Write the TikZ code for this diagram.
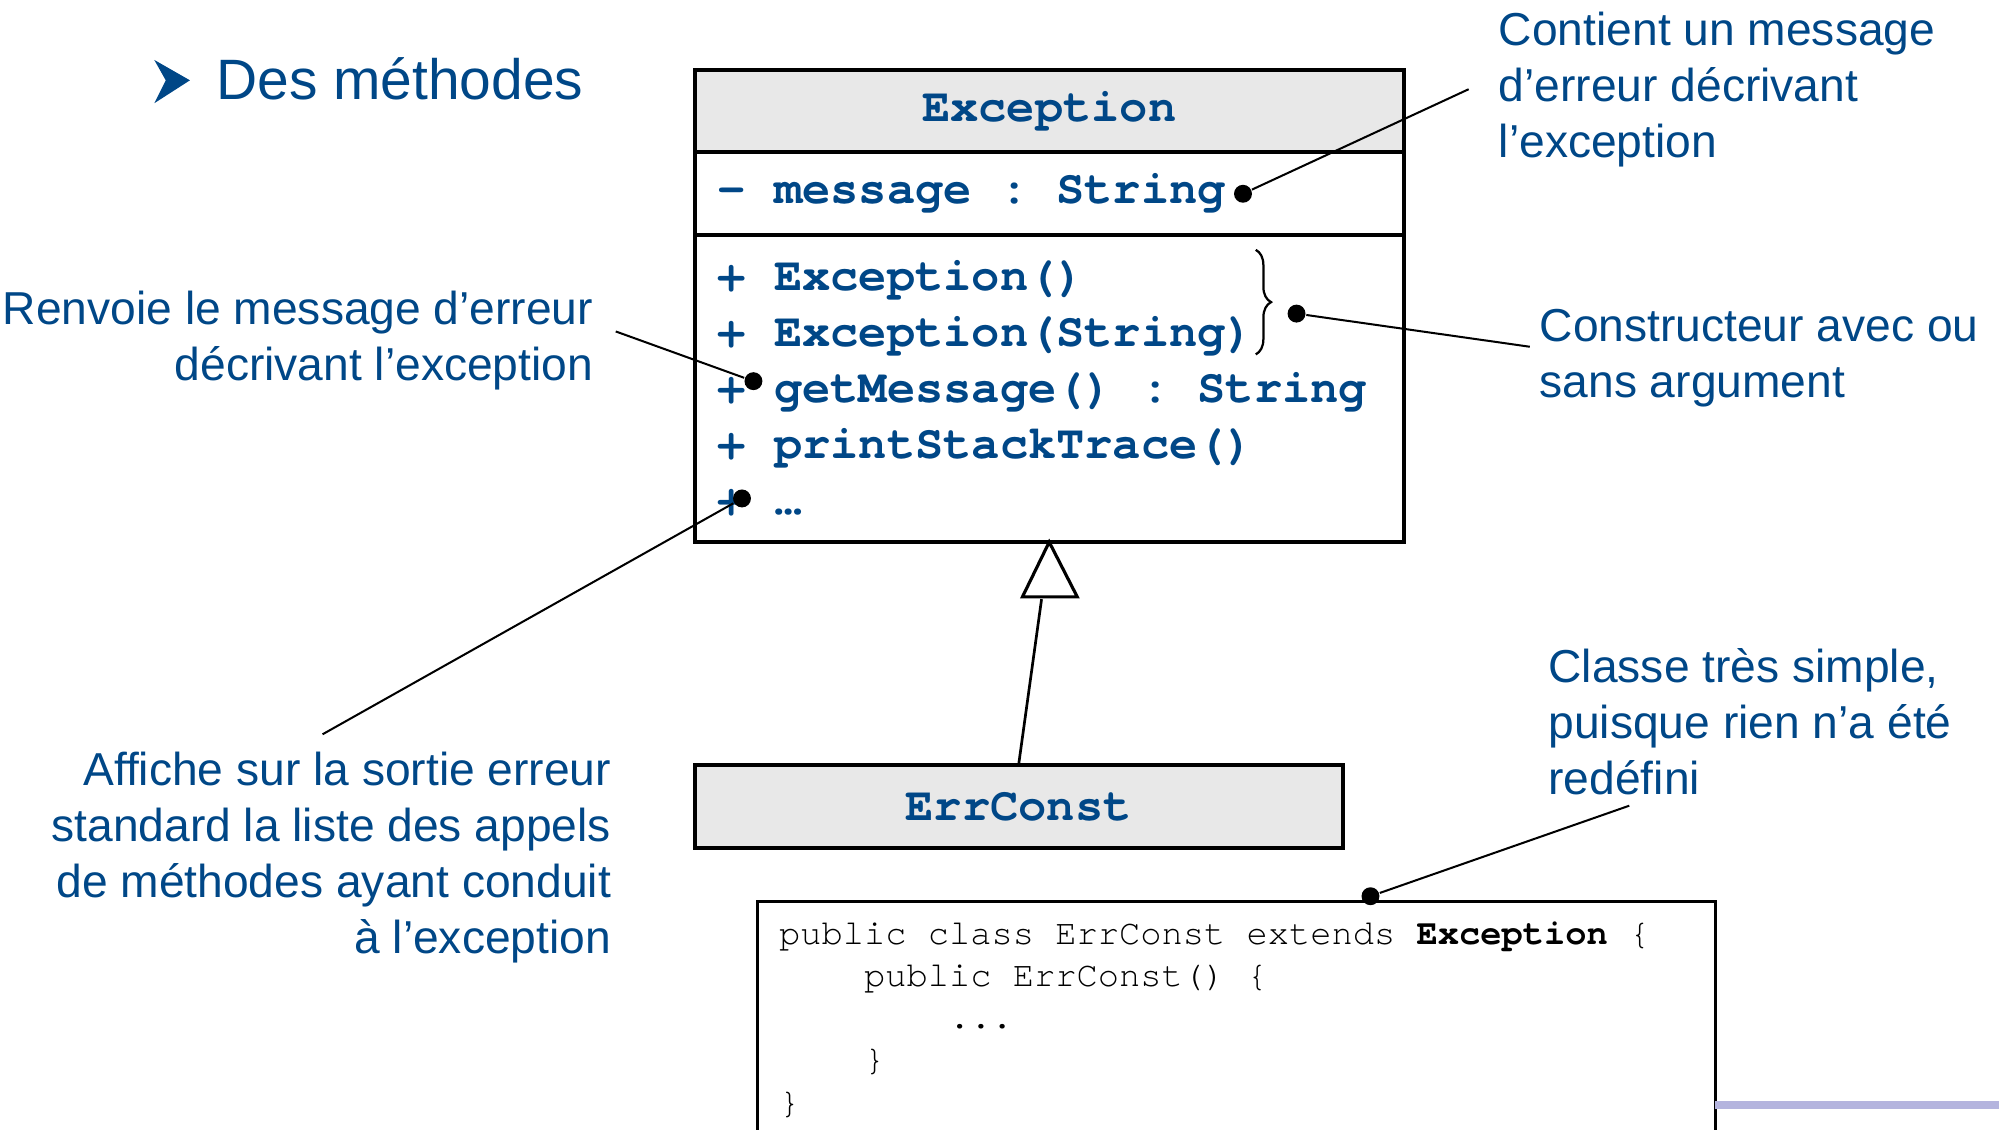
\documentclass[tikz,border=0pt]{standalone}
\usepackage{fontspec}
\setmainfont{Liberation Sans}
\newfontfamily\umlmono{TeX Gyre Cursor}
% one full character cell of blank in the monospaced text
\newcommand\sk{\hspace*{0.6em}}
\usetikzlibrary{positioning,arrows.meta,decorations.pathreplacing}
\definecolor{slideblue}{RGB}{0,71,135}
\definecolor{headgray}{RGB}{232,232,232}
\definecolor{barlav}{RGB}{180,180,222}
\tikzset{
  chead/.style   = {draw, line width=0.9pt, fill=headgray, text=slideblue,
                    font=\umlmono\bfseries\fontsize{10.5}{12.5}\selectfont,
                    minimum width=5.56cm, minimum height=0.64cm,
                    inner sep=0pt, outer sep=0pt},
  % compartments: fixed text width, left aligned
  cpart/.style   = {chead, fill=white, align=left, text width=5.2cm},
  note/.style    = {text=slideblue, font=\fontsize{10.3}{12.5}\selectfont,
                    inner sep=0pt},
  pin/.style     = {circle, fill=black, inner sep=0pt, minimum size=4pt},
  link/.style    = {draw=black, line width=0.45pt},
  codebox/.style = {draw, line width=0.6pt, fill=white, align=left,
                    text width=7.17cm, inner xsep=0.17cm, inner ysep=0.16cm,
                    font=\umlmono\fontsize{7.9}{9.4}\selectfont},
}

\begin{document}
\begin{tikzpicture}[x=0.01cm, y=-0.01cm]
  \useasboundingbox (0,0) rectangle (1568,886);
  \clip (0,0) rectangle (1568,886);

  % bullet
  \fill[slideblue] (121,47) -- (149,63) -- (121,81) -- (130,63) -- cycle;
  \node[note, anchor=west, font=\fontsize{12.7}{15}\selectfont] (title) at (169,62) {Des méthodes};

  % class Exception
  \node[chead] (exc) at (823,87) {Exception};
  \node[cpart, minimum height=0.65cm, below=0pt of exc] (attr) {–\sk message\sk:\sk String};
  \node[cpart, minimum height=2.41cm, below=0pt of attr] (meth)
       {+\sk Exception()\\+\sk Exception(String)\\+\sk getMessage()\sk:\sk String\\+\sk printStackTrace()\\+\sk …};
  \draw[decorate, decoration={brace, amplitude=0.12cm}, line width=0.5pt] (985,196) -- (985,278);

  % class ErrConst
  \node[chead, minimum width=5.08cm, minimum height=0.65cm] (errc) at (799,632.5) {ErrConst};
  \coordinate (triBase) at (817,470);
  \draw[line width=0.7pt, fill=white] (meth.south) -- ++(-21,43) -- ++(43,0) -- cycle;
  \draw[line width=0.6pt] (errc.north) -- (triBase);

  \node[codebox, anchor=north west] (code) at (593,706)
       {public\sk class\sk ErrConst\sk extends\sk \textbf{Exception}\sk \{\\
        \hspace*{2.4em}public\sk ErrConst()\sk \{\\
        \hspace*{4.8em}...\\
        \hspace*{2.4em}\}\\
        \}};

  \fill[barlav] (1345,864) rectangle (1568,870);

  % notes
  \node[note, anchor=west, align=left] (nMsg) at (1175,70)
       {Contient un message\\d’erreur décrivant\\l’exception};
  \node[note, anchor=west, align=left] (nCtor) at (1207,281)
       {Constructeur avec ou\\sans argument};
  \node[note, anchor=east, align=right] (nGet) at (466,267)
       {Renvoie le message d’erreur\\décrivant l’exception};
  \node[note, anchor=east, align=right] (nMore) at (480,673)
       {Affiche sur la sortie erreur\\standard la liste des appels\\de méthodes ayant conduit\\à l’exception};
  \node[note, anchor=west, align=left] (nSimple) at (1214,566)
       {Classe très simple,\\puisque rien n’a été\\redéfini};

  % pins and their links
  \node[pin] (dMsg)  at (975,152) {};
  \node[pin] (dCtor) at (1017,246) {};
  \node[pin] (dGet)  at (591,299) {};
  \node[pin] (dMore) at (582,391) {};
  \node[pin] (dCode) at (1075,703) {};
  \coordinate (cMsg)  at (1152,70);
  \coordinate (cCtor) at (1200,272);
  \coordinate (cGet)  at (483,260);
  \coordinate (cMore) at (253,576);
  \coordinate (cCode) at (1278,632);
  \draw[link] (cMsg) -- (dMsg);
  \draw[link] (cCtor) -- (dCtor);
  \draw[link] (cGet) -- (dGet);
  \draw[link] (cMore) -- (dMore);
  \draw[link] (cCode) -- (dCode);
\end{tikzpicture}
\end{document}
